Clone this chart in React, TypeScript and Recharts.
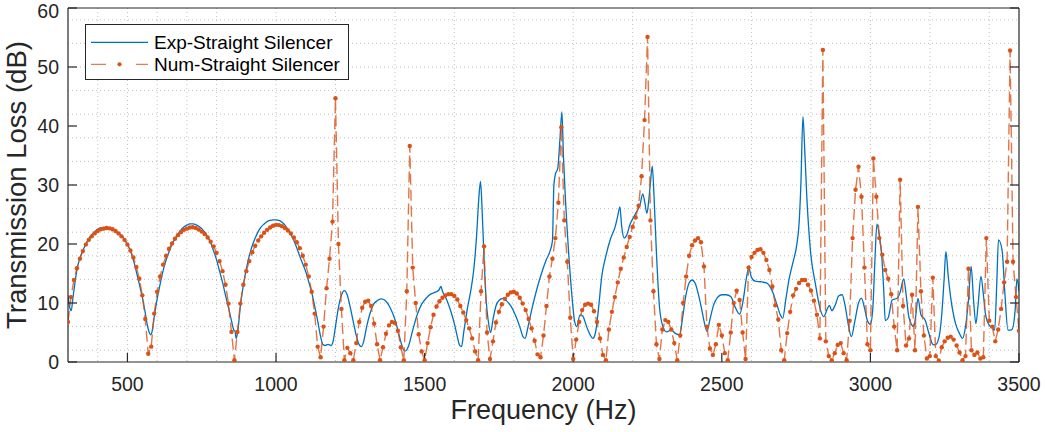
import React from 'react';
import { LineChart, Line, XAxis, YAxis, CartesianGrid, Legend, Label } from 'recharts';

const X_TITLE = 'Frequency (Hz)';
const Y_TITLE = 'Transmission Loss (dB)';
const EXP_NAME = 'Exp-Straight Silencer';
const NUM_NAME = 'Num-Straight Silencer';

const xTicks = [500, 1000, 1500, 2000, 2500, 3000, 3500];
const yTicks = [0, 10, 20, 30, 40, 50, 60];
const xGridHz = [400, 500, 600, 700, 800, 900, 1000, 1100, 1200, 1300, 1400, 1500, 1600, 1700, 1800, 1900, 2000, 2100, 2200, 2300, 2400, 2500, 2600, 2700, 2800, 2900, 3000, 3100, 3200, 3300, 3400];
const yGridDb = [2, 4, 6, 8, 10, 12, 14, 16, 18, 20, 22, 24, 26, 28, 30, 32, 34, 36, 38, 40, 42, 44, 46, 48, 50, 52, 54, 56, 58];

// Numerical result, sampled every 10 Hz from 300 Hz
const numStartHz = 300;
const numStepHz = 10;
const numTL = [
  6.8, 11.0, 13.9, 15.9, 17.5, 18.8, 19.9, 20.7, 21.3, 21.8,
  22.2, 22.5, 22.6, 22.7, 22.65, 22.5, 22.2, 21.8, 21.3, 20.7,
  19.9, 18.9, 17.7, 16.1, 14.1, 11.3, 7.3, 1.4, 2.6, 8.2,
  11.9, 14.5, 16.5, 18.0, 19.2, 20.1, 20.9, 21.5, 22.0, 22.4,
  22.6, 22.8, 22.85, 22.7, 22.45, 22.1, 21.7, 21.1, 20.4, 19.6,
  18.5, 17.1, 15.4, 13.1, 9.9, 5.1, 0.3, 5.1, 9.9, 13.1,
  15.4, 17.1, 18.6, 19.7, 20.6, 21.3, 21.9, 22.4, 22.8, 23.1,
  23.25, 23.2, 23.0, 22.7, 22.3, 21.8, 21.1, 20.3, 19.3, 18.0,
  16.5, 14.5, 11.9, 8.2, 2.6, 0.8, 6.0, 12.5, 17.5, 23.8,
  44.7, 20.0, 9.0, 0.3, 2.4, 1.5, 0.3, 3.2, 6.8, 9.2,
  10.2, 10.4, 9.5, 6.5, 3.0, 0.3, 2.5, 4.8, 6.2, 6.8,
  6.6, 5.3, 2.5, 0.3, 12.0, 36.6, 16.0, 10.0, 4.7, 1.8,
  0.3, 3.2, 5.9, 8.0, 9.4, 10.3, 10.9, 11.3, 11.5, 11.5,
  11.2, 10.6, 9.5, 8.4, 7.1, 5.7, 4.0, 1.8, 0.3, 12.0,
  19.6, 5.0, 0.5, 3.5, 6.7, 8.5, 9.8, 10.7, 11.4, 11.8,
  11.9, 11.6, 10.9, 9.9, 8.8, 7.3, 5.7, 3.6, 1.3, 0.8,
  4.5, 9.5, 14.5, 17.5, 21.0, 27.0, 39.8, 24.0, 17.0, 7.5,
  0.5, 3.8, 6.8, 8.8, 9.7, 9.9, 9.7, 8.6, 6.8, 4.0,
  1.2, 0.3, 5.5, 8.5, 11.0, 13.5, 15.8, 17.7, 19.5, 21.2,
  22.9, 24.5, 26.5, 31.5, 41.0, 55.1, 24.0, 12.0, 3.0, 0.5,
  5.5, 7.1, 6.8, 5.5, 3.2, 0.3, 4.5, 10.0, 14.5, 18.0,
  19.8, 20.6, 21.0, 20.3, 16.2, 6.0, 2.3, 1.2, 3.0, 6.3,
  4.5, 1.5, 0.3, 5.0, 10.0, 12.1, 10.5, 5.0, 0.5, 16.0,
  17.8, 18.5, 19.0, 19.1, 18.5, 17.3, 15.6, 12.8, 9.6, 7.2,
  2.0, 0.3, 4.9, 8.5, 11.3, 12.4, 13.4, 13.9, 13.9, 13.1,
  12.1, 10.4, 8.0, 4.0, 52.9, 3.5, 1.0, 0.3, 1.5, 2.9,
  3.2, 1.5, 0.3, 7.0, 21.0, 29.2, 33.1, 28.0, 16.0, 3.0,
  2.0, 34.5, 28.0, 21.0, 18.2, 15.6, 14.1, 11.5, 6.0, 2.0,
  30.9, 9.5, 2.8, 4.0, 11.4, 2.0, 26.3, 12.0, 4.5, 0.6,
  1.0, 14.3, 1.0, 0.2, 2.5, 3.5, 4.1, 4.3, 3.8, 2.8,
  1.6, 0.3, 1.0, 15.8, 2.0, 1.2, 1.6, 0.6, 0.8, 21.0,
  7.0, 6.0, 3.5, 5.5, 9.0, 13.5, 17.0, 52.8, 17.0, 11.0,
  5.3,
];

// Experimental result (frequency, transmission loss)
const expFreq = [
  300, 306, 311, 316, 322, 330, 340, 350, 360, 370, 380, 390, 400, 410, 420, 430, 440, 450, 460, 470,
  480, 490, 500, 510, 520, 530, 540, 550, 560, 568, 574, 578, 583, 590, 600, 610, 620, 630, 640, 650,
  660, 670, 680, 690, 700, 710, 720, 730, 740, 750, 760, 770, 780, 790, 800, 810, 820, 830, 840, 850,
  858, 862, 866, 872, 880, 890, 900, 910, 920, 930, 940, 950, 960, 970, 980, 990, 1000, 1010, 1020, 1030,
  1040, 1050, 1060, 1070, 1080, 1090, 1100, 1110, 1120, 1130, 1140, 1150, 1157, 1165, 1175, 1185, 1192, 1200, 1210, 1220,
  1230, 1240, 1250, 1260, 1270, 1280, 1287, 1295, 1305, 1315, 1325, 1340, 1355, 1370, 1385, 1400, 1410, 1420, 1430, 1437,
  1445, 1460, 1475, 1490, 1505, 1520, 1535, 1548, 1555, 1560, 1570, 1580, 1590, 1600, 1610, 1618, 1624, 1632, 1645, 1655,
  1665, 1675, 1682, 1688, 1693, 1700, 1707, 1714, 1722, 1730, 1740, 1752, 1763, 1775, 1790, 1805, 1820, 1832, 1838, 1848,
  1862, 1880, 1897, 1910, 1922, 1930, 1935, 1940, 1948, 1955, 1962, 1967, 1973, 1984, 1995, 2005, 2012, 2023, 2032, 2045,
  2057, 2066, 2075, 2085, 2096, 2110, 2125, 2141, 2150, 2157, 2163, 2172, 2180, 2191, 2208, 2225, 2234, 2241, 2248, 2255,
  2260, 2266, 2272, 2280, 2290, 2300, 2314, 2330, 2345, 2358, 2368, 2378, 2390, 2400, 2410, 2421, 2432, 2442, 2450, 2460,
  2472, 2485, 2500, 2515, 2530, 2545, 2560, 2572, 2582, 2591, 2600, 2612, 2630, 2650, 2670, 2685, 2697, 2705, 2715, 2727,
  2740, 2752, 2760, 2766, 2773, 2779, 2786, 2798, 2815, 2832, 2843, 2855, 2862, 2870, 2882, 2893, 2905, 2915, 2925, 2936,
  2948, 2960, 2970, 2980, 2990, 3000, 3008, 3015, 3022, 3030, 3038, 3045, 3050, 3060, 3073, 3090, 3100, 3112, 3120, 3130,
  3146, 3153, 3160, 3170, 3185, 3196, 3210, 3218, 3230, 3240, 3248, 3254, 3262, 3270, 3286, 3300, 3310, 3320, 3330, 3339,
  3347, 3355, 3362, 3372, 3380, 3387, 3400, 3410, 3418, 3425, 3431, 3443, 3452, 3463, 3476, 3487, 3493, 3500,
];
const expTL = [
  11.3, 9.2, 8.7, 10.6, 12.9, 15.6, 17.6, 18.9, 20.0, 20.9, 21.6, 22.1, 22.5, 22.7, 22.8, 22.8, 22.7, 22.5, 22.2, 21.8,
  21.4, 20.8, 20.0, 18.8, 17.3, 15.3, 13.2, 11.0, 8.3, 6.0, 4.9, 4.6, 5.2, 7.6, 10.7, 13.2, 15.5, 17.3, 18.7, 19.9,
  20.9, 21.7, 22.4, 22.9, 23.2, 23.4, 23.4, 23.3, 23.0, 22.6, 22.0, 21.2, 20.2, 18.8, 17.3, 15.4, 13.5, 11.3, 9.2, 7.0,
  5.4, 5.2, 4.0, 5.5, 9.5, 13.0, 15.8, 18.0, 19.7, 21.0, 22.1, 22.9, 23.4, 23.8, 24.0, 24.1, 24.1, 24.0, 23.7, 23.2,
  22.5, 21.6, 20.6, 19.3, 17.9, 16.6, 15.3, 13.6, 11.8, 9.5, 7.0, 4.3, 3.0, 2.8, 3.0, 2.8, 3.5, 6.0, 9.2, 11.3,
  12.1, 11.3, 9.2, 6.8, 4.5, 2.9, 2.6, 3.5, 6.0, 8.0, 9.5, 10.4, 10.7, 10.3, 9.1, 7.2, 5.4, 3.4, 2.0, 1.9,
  2.6, 5.4, 8.0, 9.8, 10.8, 11.5, 11.8, 12.2, 12.8, 12.0, 11.0, 9.8, 8.3, 6.5, 4.3, 2.8, 2.6, 5.2, 9.4, 12.0,
  15.5, 21.5, 27.5, 30.6, 26.3, 17.5, 10.5, 7.0, 5.0, 7.2, 9.5, 10.5, 10.8, 10.4, 9.5, 8.0, 6.0, 4.2, 4.0, 6.0,
  9.2, 12.8, 15.6, 17.4, 18.8, 20.5, 30.0, 31.8, 32.8, 37.5, 42.4, 35.0, 28.5, 19.0, 11.6, 6.8, 6.0, 8.0, 7.8, 6.0,
  4.6, 4.0, 5.0, 9.0, 14.5, 18.0, 20.8, 22.9, 24.8, 26.3, 23.0, 21.0, 21.5, 23.3, 25.0, 26.7, 28.5, 27.0, 25.2, 27.8,
  30.5, 33.2, 28.0, 18.5, 9.5, 6.3, 5.1, 5.4, 4.8, 4.6, 7.5, 11.0, 13.4, 13.9, 13.4, 11.5, 9.0, 6.5, 5.2, 7.2,
  9.6, 10.9, 11.4, 11.4, 11.1, 9.3, 8.1, 10.5, 14.0, 15.9, 14.3, 13.7, 13.6, 13.4, 12.0, 9.8, 8.0, 7.4, 10.5, 14.2,
  17.0, 19.8, 23.5, 30.0, 41.6, 36.0, 28.0, 19.0, 13.2, 8.8, 7.7, 9.0, 9.6, 8.7, 9.7, 11.2, 11.4, 9.5, 6.5, 4.3,
  7.0, 10.0, 10.8, 9.2, 7.0, 6.4, 9.0, 17.0, 23.4, 21.5, 18.0, 12.0, 7.0, 7.5, 10.5, 10.8, 11.8, 14.1, 11.5, 7.5,
  6.0, 8.0, 10.8, 8.0, 7.0, 5.0, 3.0, 2.9, 4.0, 8.0, 14.0, 18.7, 14.5, 11.0, 6.6, 4.8, 4.0, 6.0, 10.5, 16.2,
  10.5, 6.5, 9.5, 14.5, 11.5, 8.2, 6.2, 5.8, 5.4, 13.0, 20.7, 19.0, 12.0, 5.4, 5.5, 8.8, 14.1, 12.0,
];

const numData = numTL.map((tl, i) => ({ f: numStartHz + i * numStepHz, tl }));
const expData = expFreq.map((f, i) => ({ f, tl: expTL[i] }));

const BLUE = '#0072BD';
const ORANGE = '#D95319';
const AXIS = '#262626';
const FONT = '"Liberation Sans", Arial, Helvetica, sans-serif';

const EmptyTick = () => <g />;

const renderLegend = () => (
  <svg width={264} height={56} style={{ display: 'block' }}>
    <rect x={0.5} y={0.5} width={263} height={55} fill="#ffffff" stroke={AXIS} strokeWidth={1} />
    <line x1={6} x2={63} y1={18.3} y2={18.3} stroke={BLUE} strokeWidth={1.3} />
    <text x={69} y={24.8} fontSize={19} fill="#000" fontFamily={FONT}>{EXP_NAME}</text>
    <line x1={6} x2={63} y1={40.3} y2={40.3} stroke={ORANGE} strokeOpacity={0.75} strokeWidth={1.3} strokeDasharray="15 30" />
    <circle cx={34.5} cy={40.3} r={2.1} fill={ORANGE} />
    <text x={69} y={47} fontSize={19} fill="#000" fontFamily={FONT}>{NUM_NAME}</text>
  </svg>
);

export default function App() {
  return (
    <div style={{ position: 'absolute', left: 0, top: 0, width: 1046, height: 432, background: '#fff' }}>
      <LineChart width={1046} height={432} margin={{ top: 7, right: 26, bottom: 0, left: 0 }}>
        <CartesianGrid
          xAxisId="main"
          yAxisId="main"
          verticalValues={xGridHz}
          horizontalValues={yGridDb}
          stroke="#bfbfbf"
          strokeWidth={1}
          strokeDasharray="1 3"
        />
        <XAxis
          xAxisId="main"
          dataKey="f"
          type="number"
          domain={[300, 3500]}
          allowDataOverflow
          ticks={xTicks}
          height={70}
          tickLine={{ stroke: AXIS, strokeWidth: 1.2 }}
          tickSize={-9}
          tickMargin={24}
          axisLine={{ stroke: AXIS, strokeWidth: 1.2 }}
          tick={{ fontSize: 19.5, fill: AXIS, fontFamily: FONT }}
        >
          <Label
            content={(p: any) => {
              const vb = p.viewBox || { x: 68, y: 362, width: 951 };
              return (
                <text x={vb.x + vb.width / 2} y={vb.y + 57} textAnchor="middle" fontSize={27} fill={AXIS} fontFamily={FONT}>
                  {X_TITLE}
                </text>
              );
            }}
          />
        </XAxis>
        <XAxis xAxisId="top" type="number" domain={[300, 3500]} allowDataOverflow ticks={xTicks} orientation="top" height={1} tick={EmptyTick} tickSize={-9} tickLine={{ stroke: AXIS, strokeWidth: 1.2 }} axisLine={{ stroke: AXIS, strokeWidth: 1.2 }} />
        <YAxis
          yAxisId="main"
          type="number"
          domain={[0, 60]}
          allowDataOverflow
          ticks={yTicks}
          width={68}
          tickLine={{ stroke: AXIS, strokeWidth: 1.2 }}
          tickSize={-9}
          tickMargin={18}
          axisLine={{ stroke: AXIS, strokeWidth: 1.2 }}
          tick={{ fontSize: 19.5, fill: AXIS, fontFamily: FONT }}
        >
          <Label
            content={(p: any) => {
              const vb = p.viewBox || { x: 0, y: 8, height: 354 };
              const cx = vb.x + 26;
              const cy = vb.y + vb.height / 2;
              return (
                <text x={cx} y={cy} transform={`rotate(-90, ${cx}, ${cy})`} textAnchor="middle" fontSize={27.5} fill={AXIS} fontFamily={FONT}>
                  {Y_TITLE}
                </text>
              );
            }}
          />
        </YAxis>
        <YAxis yAxisId="right" type="number" domain={[0, 60]} allowDataOverflow ticks={yTicks} orientation="right" width={1} tick={EmptyTick} tickSize={-9} tickLine={{ stroke: AXIS, strokeWidth: 1.2 }} axisLine={{ stroke: AXIS, strokeWidth: 1.2 }} />
        <Legend
          layout="vertical"
          align="center"
          verticalAlign="middle"
          content={renderLegend}
          wrapperStyle={{ left: 85, top: 24, width: 264, height: 56 }}
        />
        <Line
          xAxisId="main"
          yAxisId="main"
          data={expData}
          dataKey="tl"
          name={EXP_NAME}
          type="monotone"
          stroke={BLUE}
          strokeWidth={1.3}
          dot={false}
          activeDot={false}
          isAnimationActive={false}
        />
        <Line
          xAxisId="main"
          yAxisId="main"
          data={numData}
          dataKey="tl"
          name={NUM_NAME}
          type="linear"
          stroke={ORANGE}
          strokeOpacity={0.8}
          strokeWidth={1.4}
          strokeDasharray="11 5"
          dot={{ r: 2.2, fill: ORANGE, stroke: 'none', strokeDasharray: '' }}
          activeDot={false}
          isAnimationActive={false}
        />
      </LineChart>
    </div>
  );
}
